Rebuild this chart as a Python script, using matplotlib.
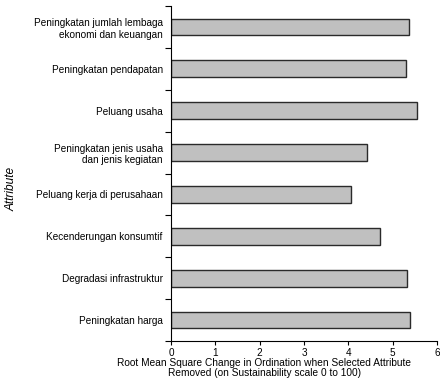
import matplotlib
matplotlib.use("Agg")
import matplotlib.pyplot as plt
import numpy as np

plt.rcParams['font.family'] = ['Liberation Sans', 'DejaVu Sans']

attributes = [
    "Peningkatan jumlah lembaga\nekonomi dan keuangan",
    "Peningkatan pendapatan",
    "Peluang usaha",
    "Peningkatan jenis usaha\ndan jenis kegiatan",
    "Peluang kerja di perusahaan",
    "Kecenderungan konsumtif",
    "Degradasi infrastruktur",
    "Peningkatan harga",
]
rms_change = [5.36, 5.30, 5.55, 4.43, 4.05, 4.72, 5.33, 5.39]

fig = plt.figure(figsize=(4.4, 3.82), dpi=100)
ax = fig.add_axes([171 / 440, 1 - 341 / 382, (437 - 171) / 440, (341 - 6) / 382])

n = len(attributes)
pos = np.arange(n)[::-1]
ax.barh(pos, rms_change, height=0.4, color="#c0c0c0", edgecolor="#2a2a2a", linewidth=1.0)

ax.set_xlim(0, 6)
ax.set_ylim(-0.5, n - 0.5)
ax.set_xticks(range(0, 7))
ax.tick_params(axis="x", labelsize=7.2, length=3, width=0.8, pad=2)

# category labels sit between the boundary ticks
ax.set_yticks(np.arange(-0.5, n, 1.0))
ax.set_yticklabels([])
ax.set_yticks(pos, minor=True)
ax.set_yticklabels(attributes, minor=True, fontsize=7.2, ha="right")
ax.tick_params(axis="y", which="major", length=4, width=0.8)
ax.tick_params(axis="y", which="minor", length=0, pad=6)

for s in ("top", "right"):
    ax.spines[s].set_visible(False)
for s in ("left", "bottom"):
    ax.spines[s].set_linewidth(0.8)

ax.set_xlabel("Root Mean Square Change in Ordination when Selected Attribute\nRemoved (on Sustainability scale 0 to 100)",
              fontsize=7.3, linespacing=1.05)
ax.xaxis.set_label_coords((264 - 171) / 266, -(358 - 341) / 335)
fig.text(12 / 440, 1 - 189 / 382, "Attribute", rotation=90, style="italic",
         fontsize=8.6, ha="center", va="center")

fig.savefig("out.png", dpi=100)
